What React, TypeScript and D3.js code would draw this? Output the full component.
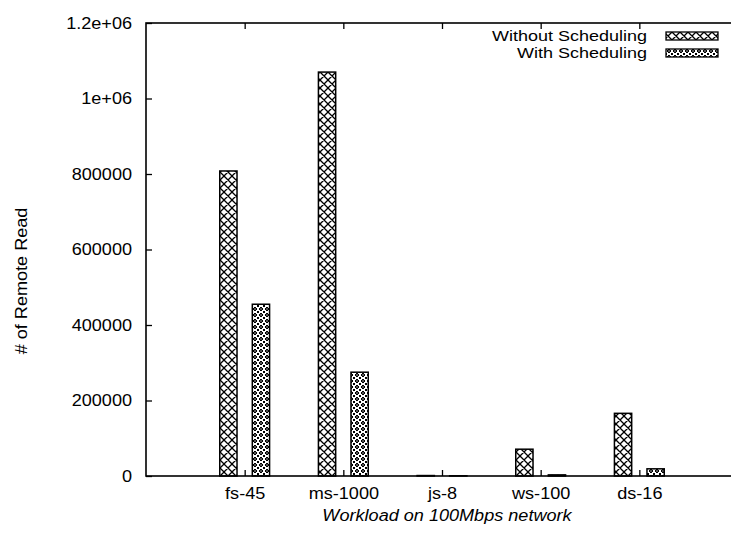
import React, { useEffect, useRef } from 'react';
import * as d3 from 'd3';

const WIDTH = 731;
const HEIGHT = 535;
// plot frame (right edge falls just outside the picture, like the scan)
const LEFT = 146;
const RIGHT = 738;
const TOP = 23;
const BOTTOM = 476;

const categories = ['fs-45', 'ms-1000', 'js-8', 'ws-100', 'ds-16'];
const withoutScheduling = [808000, 1070000, 1200, 71000, 166000];
const withScheduling = [455000, 275000, 600, 3000, 19000];
const yTickValues = [0, 200000, 400000, 600000, 800000, 1000000, 1200000];
const yTickLabels = ['0', '200000', '400000', '600000', '800000', '1e+06', '1.2e+06'];
const seriesNames = ['Without Scheduling', 'With Scheduling'];

const FONT = '"Liberation Sans", Arial, Helvetica, sans-serif';
const FONT_SIZE = 16;
const STRETCH = 1.13; // the scanned font is wide and short

const App = () => {
    const ref = useRef<SVGSVGElement>(null);

    useEffect(() => {
        const svg = d3.select(ref.current);
        svg.selectAll('*').remove();

        const x = d3.scaleLinear().domain([0, categories.length + 1]).range([LEFT, RIGHT]);
        const y = d3.scaleLinear().domain([0, 1200000]).range([BOTTOM, TOP]);
        const barW = x(0.175) - x(0);
        const offset = 0.165;

        const defs = svg.append('defs');
        // coarse crosshatch
        const p1 = defs.append('pattern')
            .attr('id', 'hatchA')
            .attr('patternUnits', 'userSpaceOnUse')
            .attr('width', 8)
            .attr('height', 8);
        p1.append('rect').attr('width', 8).attr('height', 8).attr('fill', 'white');
        p1.append('path')
            .attr('d', 'M0,0L8,8M8,0L0,8M-1,7L1,9M7,-1L9,1')
            .attr('stroke', 'black')
            .attr('stroke-width', 1.3);
        // fine dotted crosshatch
        const p2 = defs.append('pattern')
            .attr('id', 'hatchB')
            .attr('patternUnits', 'userSpaceOnUse')
            .attr('width', 6)
            .attr('height', 6);
        p2.append('rect').attr('width', 6).attr('height', 6).attr('fill', 'white');
        p2.append('path')
            .attr('d', 'M3,1L5,3L3,5L1,3Z')
            .attr('fill', 'none')
            .attr('stroke', 'black')
            .attr('stroke-width', 1);
        p2.append('circle').attr('cx', 3).attr('cy', 3).attr('r', 0.9).attr('fill', 'black');
        [[-1, -1], [5, -1], [-1, 5], [5, 5]].forEach(([px, py]) => {
            p2.append('rect').attr('x', px).attr('y', py).attr('width', 2).attr('height', 2).attr('fill', 'black');
        });

        const fills = ['url(#hatchA)', 'url(#hatchB)'];
        const series = [withoutScheduling, withScheduling];

        // bars
        series.forEach((values, s) => {
            svg.append('g')
                .selectAll('rect')
                .data(values)
                .enter().append('rect')
                .attr('x', (_, i) => x(i + 1 + (s === 0 ? -offset : offset)) - barW / 2)
                .attr('y', (d) => y(d))
                .attr('width', barW)
                .attr('height', (d) => BOTTOM - y(d))
                .attr('fill', fills[s])
                .attr('stroke', 'black')
                .attr('stroke-width', 1.5);
        });

        // frame
        svg.append('rect')
            .attr('x', LEFT)
            .attr('y', TOP)
            .attr('width', RIGHT - LEFT)
            .attr('height', BOTTOM - TOP)
            .attr('fill', 'none')
            .attr('stroke', 'black')
            .attr('stroke-width', 1.6);

        // y axis, ticks inward
        const yAxis = d3.axisLeft(y)
            .tickValues(yTickValues)
            .tickFormat((_, i) => yTickLabels[i])
            .tickSizeInner(-6)
            .tickSizeOuter(0)
            .tickPadding(14);
        const yg = svg.append('g').attr('transform', `translate(${LEFT},0)`).call(yAxis);
        yg.select('.domain').remove();

        const yRight = d3.axisRight(y).tickValues(yTickValues).tickFormat(() => '').tickSizeInner(-6).tickSizeOuter(0);
        svg.append('g').attr('transform', `translate(${RIGHT},0)`).call(yRight).select('.domain').remove();

        // x axis, ticks inward
        const xAxis = d3.axisBottom(x)
            .tickValues(categories.map((_, i) => i + 1))
            .tickFormat((_, i) => categories[i])
            .tickSizeInner(-6)
            .tickSizeOuter(0)
            .tickPadding(12);
        const xg = svg.append('g').attr('transform', `translate(0,${BOTTOM})`).call(xAxis);
        xg.select('.domain').remove();

        const xTop = d3.axisTop(x).tickValues(categories.map((_, i) => i + 1)).tickFormat(() => '').tickSizeInner(-6).tickSizeOuter(0);
        svg.append('g').attr('transform', `translate(0,${TOP})`).call(xTop).select('.domain').remove();

        svg.selectAll('.tick line').attr('stroke', 'black').attr('stroke-width', 1.3);
        svg.selectAll('.tick text').attr('fill', 'black');

        // axis titles
        svg.append('text')
            .attr('x', 447)
            .attr('y', 521)
            .attr('text-anchor', 'middle')
            .style('font-style', 'italic')
            .text('Workload on 100Mbps network');

        svg.append('text')
            .attr('transform', 'translate(27,281) rotate(-90)')
            .attr('text-anchor', 'middle')
            .text('# of Remote Read');

        // same font everywhere, stretched sideways
        svg.selectAll<SVGTextElement, unknown>('text')
            .style('font-family', FONT)
            .style('font-size', `${FONT_SIZE}px`)
            .each(function () {
                const len = this.getComputedTextLength();
                d3.select(this)
                    .attr('textLength', len * STRETCH)
                    .attr('lengthAdjust', 'spacingAndGlyphs');
            });

        // legend: a little smaller and wider so the two rows sit apart
        const legend = svg.append('g');
        seriesNames.forEach((name, s) => {
            const cy = 36 + s * 17;
            const t = legend.append('text')
                .attr('x', 647)
                .attr('y', cy + 5)
                .attr('text-anchor', 'end')
                .style('font-family', FONT)
                .style('font-size', '14.5px')
                .text(name);
            const node = t.node() as SVGTextElement;
            t.attr('textLength', node.getComputedTextLength() * 1.24)
                .attr('lengthAdjust', 'spacingAndGlyphs');
            legend.append('rect')
                .attr('x', 666)
                .attr('y', cy - 4)
                .attr('width', 52)
                .attr('height', 8)
                .attr('fill', fills[s])
                .attr('stroke', 'black')
                .attr('stroke-width', 1.3);
        });
    }, []);

    return (
        <svg
            ref={ref}
            width={WIDTH}
            height={HEIGHT}
            style={{ position: 'absolute', left: 0, top: 0, background: 'white' }}
            xmlns="http://www.w3.org/2000/svg"
        />
    );
};

export default App;
